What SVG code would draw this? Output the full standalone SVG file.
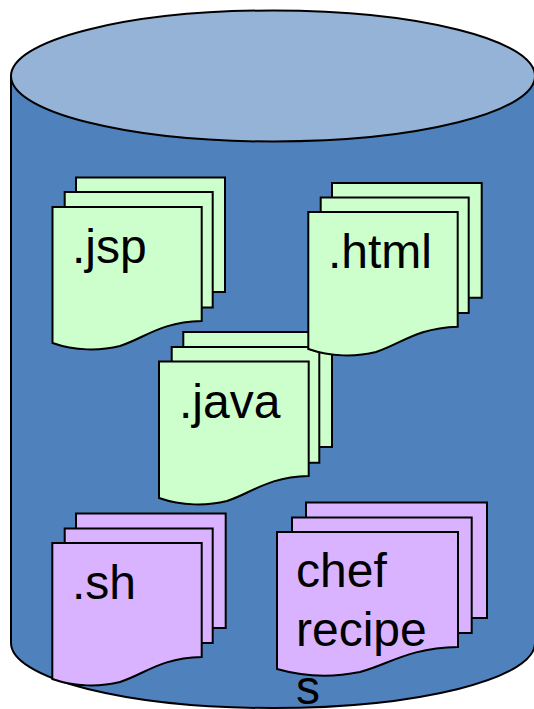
<svg xmlns="http://www.w3.org/2000/svg" width="534" height="709" viewBox="0 0 534 709">
<style>
.cyl{fill:#4f81bd;stroke:#000;stroke-width:2}
.top{fill:#95b3d7;stroke:#000;stroke-width:2}
.g path{fill:#ccffcc;stroke:#000;stroke-width:2;stroke-linejoin:miter}
.p path{fill:#d9b3ff;stroke:#000;stroke-width:2;stroke-linejoin:miter}
text{font-family:"Liberation Sans",Arial,sans-serif;font-size:48px;fill:#000}
</style>
<g id="cylinder">
<path class="cyl" d="M11,76 V643 A262,65 0 0 0 535,643 V76 Z"/>
<ellipse class="top" cx="273" cy="76" rx="262" ry="65.5"/>
</g>
<g id="jsp" class="g">
<path d="M76,177.5 H225 V292 H210 V200 H76 Z"/>
<path d="M64.7,192 H212.7 V307.5 H198 V212 H64.7 Z"/>
<path d="M52.5,207 H201.7 V321 C160,322 145,338 120,346 C100,351 75,351 52.5,343 Z"/>
<text x="72" y="263">.jsp</text>
</g>
<g id="java" class="g">
<path d="M183.3,332 H332 V447 H318 V355 H183.3 Z"/>
<path d="M171.7,347 H319.3 V462.7 H305 V365 H171.7 Z"/>
<path d="M159,361.5 H308.7 V476 C267,477 252,493 227,501 C207,506 182,506 159,498 Z"/>
<text x="179" y="418">.java</text>
</g>
<g id="html" class="g">
<path d="M332,183 H481.7 V297.7 H467 V205 H332 Z"/>
<path d="M320.7,197.5 H468.7 V313 H454 V218 H320.7 Z"/>
<path d="M308.3,212 H457.7 V326.7 C416,328 401,344 376,352 C356,357 331,357 308.3,349 Z"/>
<text x="328" y="268">.html</text>
</g>
<g id="sh" class="p">
<path d="M76,513.5 H225.7 V628 H211 V535 H76 Z"/>
<path d="M64.7,528.5 H212.7 V643 H198 V548 H64.7 Z"/>
<path d="M52.3,543 H201.7 V657 C160,658 145,674 120,682 C100,687 75,687 52.3,679 Z"/>
<text x="72" y="598.5">.sh</text>
</g>
<g id="chef" class="p">
<path d="M306,502.5 H487 V618 H470 V525 H306 Z"/>
<path d="M292,517.5 H471.7 V633 H455 V538 H292 Z"/>
<path d="M277,532 H458 V647 C408,648 390,664 360,672 C335,677 305,677 277,669 Z"/>
<text x="296" y="587">chef</text>
<text x="296" y="646">recipe</text>
<text x="296" y="703.5">s</text>
</g>
</svg>
